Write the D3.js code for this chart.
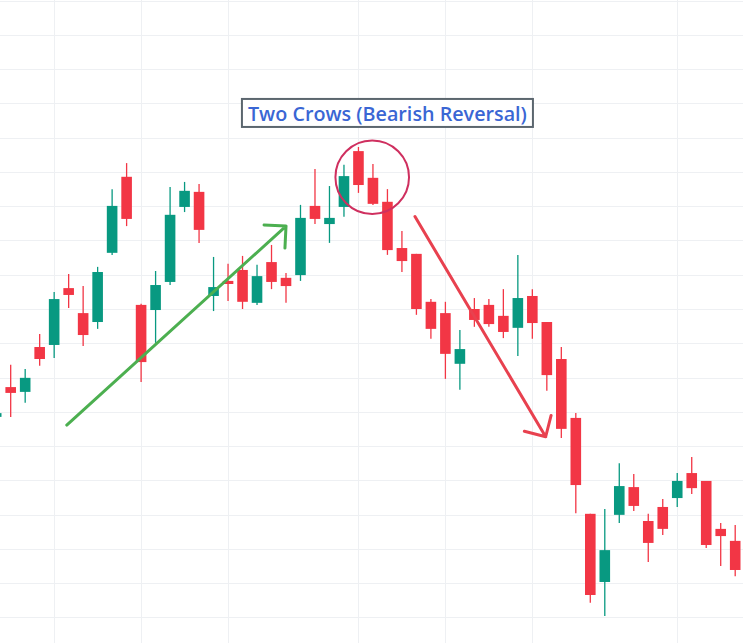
<!DOCTYPE html>
<html>
<head>
<meta charset="utf-8">
<script src="https://cdn.jsdelivr.net/npm/d3@7"></script>
<style>
  html, body { margin: 0; padding: 0; background: #fff; }
  #chart svg { display: block; }
</style>
</head>
<body>
<div id="chart"></div>
<script>
// ---- Data -------------------------------------------------------------
// one candle per session, index 0 is the bar cut off at the left edge
const opens  = [78.5, 87.2, 85.8, 98.9, 99.5, 116.1, 108.8, 106.2, 126.4, 148.6,
                111.2, 109.7, 117.9, 139.8, 144.2, 113.8, 118.2, 121.4, 111.8, 123.7,
                119.1, 119.9, 140.1, 134.8, 139.8, 156.1, 148.3, 141.3, 127.8, 126.1,
                112.1, 108.8, 94.0, 110.0, 111.2, 108.0, 104.5, 113.8, 106.2, 95.4,
                78.2, 50.2, 30.3, 49.9, 58.0, 48.1, 52.2, 54.8, 62.1, 59.8,
                45.8, 42.3];
const highs  = [82.0, 93.7, 92.5, 102.7, 115.0, 120.2, 116.7, 122.3, 145.0, 152.6,
                111.5, 121.1, 145.6, 147.1, 146.5, 125.2, 123.2, 125.5, 122.9, 128.7,
                120.5, 140.4, 150.9, 145.9, 152.1, 157.3, 152.3, 145.0, 132.8, 126.1,
                112.9, 112.1, 103.9, 113.2, 112.9, 115.8, 125.8, 115.8, 106.2, 98.9,
                79.6, 50.2, 51.6, 65.0, 61.8, 50.2, 54.5, 62.1, 66.8, 59.8,
                47.5, 46.9];
const lows   = [77.6, 78.5, 82.6, 93.4, 95.7, 110.3, 99.2, 104.2, 125.8, 134.2,
                88.7, 100.1, 117.0, 138.3, 129.3, 109.4, 112.3, 110.0, 111.2, 115.8,
                111.8, 118.2, 134.8, 129.3, 136.9, 143.9, 140.4, 125.8, 120.8, 108.3,
                101.3, 89.6, 86.4, 104.8, 104.8, 101.5, 96.3, 101.3, 86.1, 72.3,
                50.4, 24.2, 20.4, 47.5, 51.0, 36.1, 44.0, 52.2, 56.0, 40.2,
                35.0, 32.0];
const closes = [79.6, 85.5, 89.9, 95.4, 112.9, 114.1, 102.4, 120.8, 140.1, 136.3,
                94.5, 117.0, 137.5, 144.5, 133.1, 116.4, 117.3, 112.1, 119.6, 117.9,
                116.7, 136.6, 136.3, 136.6, 148.8, 146.2, 140.7, 127.2, 124.0, 110.0,
                104.2, 96.9, 98.3, 106.8, 105.6, 103.3, 113.2, 105.9, 90.7, 75.0,
                58.6, 26.5, 39.6, 58.3, 52.5, 41.7, 45.8, 59.8, 57.7, 41.1,
                43.7, 33.8];

const priceTicks = d3.range(20, 201, 10);
const timeGridBars = [4, 10, 16, 25, 31, 37, 47];   // bars that start a new period

// annotations, in bar index / price terms
const patternLabel = { text: 'Two Crows (Bearish Reversal)', bar: 27, price: 167.3 };
const patternRing  = { bar: 25.95, price: 148.45 };
const upArrow      = { from: [4.87, 76.1],  to: [20.0, 134.2] };
const downArrow    = { from: [28.9, 137.0], to: [37.92, 72.7] };

const candles = opens.map((o, i) => ({
  i, open: o, high: highs[i], low: lows[i], close: closes[i]
}));

// ---- Dimensions -------------------------------------------------------
const width = 743;
const height = 643;
const bodyWidth = 10.6;

const svg = d3.select('#chart')
  .append('svg')
  .attr('width', width)
  .attr('height', height);

// ---- Scales -----------------------------------------------------------
const xScale = d3.scaleLinear()
  .domain([0, 51])
  .range([-3.8, 735.2]);

const yScale = d3.scaleLinear()
  .domain([20, 200])
  .range([617.25, 0.75]);

// ---- Grid -------------------------------------------------------------
const grid = svg.append('g')
  .attr('stroke', '#eef0f3')
  .attr('stroke-width', 1)
  .attr('shape-rendering', 'crispEdges');

grid.selectAll('.h')
  .data(priceTicks)
  .join('line')
  .attr('x1', 0).attr('x2', width)
  .attr('y1', d => Math.round(yScale(d)) + 0.5)
  .attr('y2', d => Math.round(yScale(d)) + 0.5);

grid.selectAll('.v')
  .data(timeGridBars)
  .join('line')
  .attr('y1', 0).attr('y2', height)
  .attr('x1', d => Math.round(xScale(d)) + 0.5)
  .attr('x2', d => Math.round(xScale(d)) + 0.5);

// ---- Candles ----------------------------------------------------------
const up = '#089981';
const down = '#f23645';
const colour = d => d.close >= d.open ? up : down;

const bars = svg.append('g')
  .selectAll('g')
  .data(candles)
  .join('g');

bars.append('line')
  .attr('x1', d => xScale(d.i))
  .attr('x2', d => xScale(d.i))
  .attr('y1', d => yScale(d.high))
  .attr('y2', d => yScale(d.low))
  .attr('stroke', colour)
  .attr('stroke-width', 1.3);

bars.append('rect')
  .attr('x', d => xScale(d.i) - bodyWidth / 2)
  .attr('width', bodyWidth)
  .attr('y', d => yScale(Math.max(d.open, d.close)))
  .attr('height', d => Math.max(1, Math.abs(yScale(d.open) - yScale(d.close))))
  .attr('fill', colour);

// ---- Annotations ------------------------------------------------------
function drawArrow(arrow, stroke) {
  const [x0, y0] = [xScale(arrow.from[0]), yScale(arrow.from[1])];
  const [x1, y1] = [xScale(arrow.to[0]), yScale(arrow.to[1])];
  const back = Math.atan2(y0 - y1, x0 - x1);
  const head = 22;
  const spread = Math.PI / 4;
  const path = d3.path();
  path.moveTo(x0, y0);
  path.lineTo(x1, y1);
  path.moveTo(x1 + head * Math.cos(back + spread), y1 + head * Math.sin(back + spread));
  path.lineTo(x1, y1);
  path.lineTo(x1 + head * Math.cos(back - spread), y1 + head * Math.sin(back - spread));
  svg.append('path')
    .attr('d', path.toString())
    .attr('fill', 'none')
    .attr('stroke', stroke)
    .attr('stroke-width', 3)
    .attr('stroke-linecap', 'round')
    .attr('stroke-linejoin', 'round');
}

drawArrow(upArrow, '#4caf50');
drawArrow(downArrow, '#e8414f');

svg.append('circle')
  .attr('cx', xScale(patternRing.bar))
  .attr('cy', yScale(patternRing.price))
  .attr('r', 36.8)
  .attr('fill', 'none')
  .attr('stroke', '#cf2f5f')
  .attr('stroke-width', 2);

// label box
const lx = xScale(patternLabel.bar);
const ly = yScale(patternLabel.price);
const labelG = svg.append('g');
const box = labelG.append('rect');
const label = labelG.append('text')
  .attr('x', lx)
  .attr('y', ly + 0.5)
  .attr('text-anchor', 'middle')
  .attr('dominant-baseline', 'central')
  .attr('font-family', '"Open Sans", "Noto Sans", sans-serif')
  .attr('font-weight', 600)
  .attr('font-size', 20)
  .attr('fill', '#3a66d4')
  .text(patternLabel.text);

// fit text to the reference width
const textW = label.node().getComputedTextLength();
label.attr('font-size', 20 * 279 / textW);

box
  .attr('x', lx - 145.5)
  .attr('y', ly - 13.8)
  .attr('width', 291)
  .attr('height', 28)
  .attr('fill', '#fff')
  .attr('stroke', '#5b666e')
  .attr('stroke-width', 2);
</script>
</body>
</html>
